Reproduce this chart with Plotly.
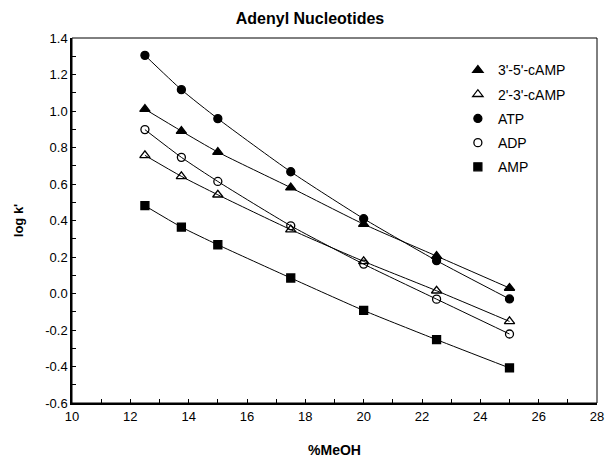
import plotly.graph_objects as go

meoh = [12.5, 13.75, 15, 17.5, 20, 22.5, 25]
camp_35 = [1.01, 0.89, 0.775, 0.58, 0.38, 0.205, 0.03]
camp_23 = [0.757, 0.642, 0.541, 0.35, 0.176, 0.015, -0.153]
atp = [1.305, 1.117, 0.958, 0.667, 0.41, 0.18, -0.03]
adp = [0.898, 0.746, 0.614, 0.371, 0.161, -0.031, -0.222]
amp = [0.481, 0.364, 0.267, 0.085, -0.093, -0.253, -0.408]

series = [
    ("3'-5'-cAMP", camp_35, "triangle-up", 9),
    ("2'-3'-cAMP", camp_23, "triangle-up-open", 9),
    ("ATP", atp, "circle", 8),
    ("ADP", adp, "circle-open", 8),
    ("AMP", amp, "square", 8),
]

fig = go.Figure()
for name, ys, sym, sz in series:
    fig.add_trace(go.Scatter(
        x=meoh, y=ys, mode="lines", line=dict(color="black", width=1, shape="spline", smoothing=0.6),
        showlegend=False, hoverinfo="skip"))
for name, ys, sym, sz in series:
    fig.add_trace(go.Scatter(
        x=meoh, y=ys, mode="markers", name=name, legendgroup=name,
        marker=dict(symbol=sym, size=sz, color="black", line=dict(color="black", width=1.3))))

font = "Liberation Sans, Arial, sans-serif"
fig.update_layout(
    width=609, height=459,
    margin=dict(l=72, r=12, t=38, b=56, autoexpand=False),
    paper_bgcolor="white", plot_bgcolor="white",
    font=dict(family=font, size=12, color="black"),
    title=dict(text="<b>Adenyl Nucleotides</b>", x=0.509, xref="container", xanchor="center",
               y=1 - 18/459, yanchor="middle", yref="container", font=dict(size=16, family=font)),
    showlegend=True,
    legend=dict(x=0.735, y=0.955, xanchor="left", yanchor="top", font=dict(size=14, family=font),
                bgcolor="rgba(0,0,0,0)", tracegroupgap=3, itemsizing="trace"),
    shapes=[dict(type="rect", xref="paper", yref="paper", x0=0, y0=0, x1=1, y1=1,
                 line=dict(color="black", width=1), layer="above")],
)
fig.update_xaxes(
    automargin=False,
    range=[10, 28], tickvals=list(range(10, 29, 2)), ticks="inside", ticklen=4,
    tickcolor="black", showline=True, linecolor="black", linewidth=2, showgrid=False,
    zeroline=False, tickfont=dict(size=13), title=dict(text="<b>%MeOH</b>", font=dict(size=14), standoff=23),
    minor=dict(ticks="inside", ticklen=4, dtick=1, tickcolor="black"))
fig.update_yaxes(
    automargin=False,
    range=[-0.6, 1.4], tickvals=[-0.6, -0.4, -0.2, 0.0, 0.2, 0.4, 0.6, 0.8, 1.0, 1.2, 1.4],
    ticktext=["-0.6", "-0.4", "-0.2", "0.0", "0.2", "0.4", "0.6", "0.8", "1.0", "1.2", "1.4"],
    ticks="inside", ticklen=4, tickcolor="black", showline=True, linecolor="black", linewidth=1.5,
    showgrid=False, zeroline=False, tickfont=dict(size=13),
    title=dict(text="<b>log k'</b>", font=dict(size=13), standoff=19),
    minor=dict(ticks="inside", ticklen=4, dtick=0.1, tickcolor="black"))

fig.write_html("out.html")
